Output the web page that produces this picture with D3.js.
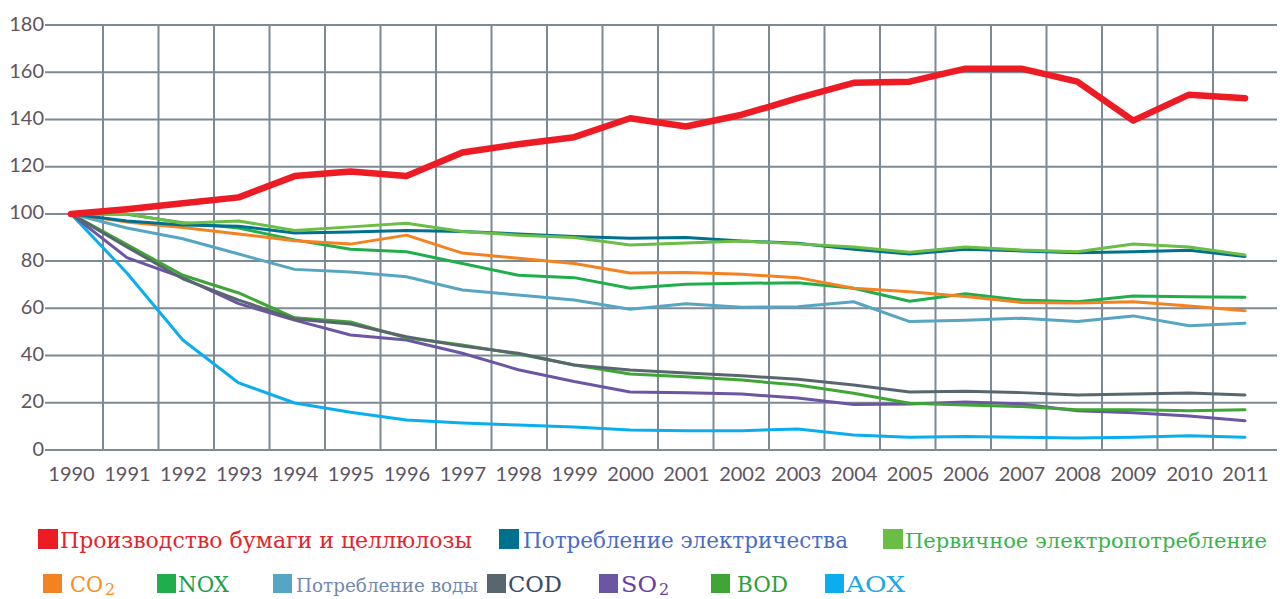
<!DOCTYPE html>
<html>
<head>
<meta charset="utf-8">
<script src="https://cdn.jsdelivr.net/npm/d3@7/dist/d3.min.js"></script>
<style>
  body { margin: 0; background: #fff; }
  svg { display: block; }
</style>
</head>
<body>
<div id="chart"></div>
<script>
// years on the x axis
var years = [1990, 1991, 1992, 1993, 1994, 1995, 1996, 1997, 1998, 1999, 2000,
             2001, 2002, 2003, 2004, 2005, 2006, 2007, 2008, 2009, 2010, 2011];

// index, 1990 = 100
var paper       = [100, 102, 104.5, 107, 116, 118, 116, 126, 129.5, 132.5, 140.5, 137, 142, 149, 155.5, 156, 161.5, 161.5, 156, 139.5, 150.5, 149];
var electricity = [100, 97, 95.3, 94.8, 91.9, 92.3, 93, 92.5, 91.5, 90.4, 89.7, 90, 88.5, 87.6, 85, 83, 85, 84.3, 83.5, 84, 84.6, 82];
var primary     = [100, 100, 96, 97, 93, 94.5, 96, 92.5, 91, 90, 86.8, 87.7, 88.5, 87.3, 86, 83.8, 86, 84.7, 84, 87.2, 86, 82.6];
var co2         = [100, 96.6, 94.2, 91.5, 88.6, 87.2, 91, 83.4, 81.2, 79, 75, 75.2, 74.4, 73, 68.5, 67, 65, 62.5, 62.3, 62.8, 61, 59];
var nox         = [100, 99.8, 96.3, 94, 89, 85, 84, 79, 74, 73, 68.5, 70.2, 70.6, 70.8, 68.5, 63, 66.2, 63.5, 62.8, 65.2, 64.9, 64.7];
var water       = [100, 94, 89.5, 83, 76.5, 75.4, 73.4, 67.8, 65.6, 63.5, 59.6, 61.9, 60.5, 60.7, 62.8, 54.4, 55, 55.8, 54.4, 56.8, 52.6, 53.7];
var cod         = [100, 86, 72.5, 63.5, 55.5, 53.4, 48, 44, 41, 36, 33.9, 32.6, 31.4, 30, 27.5, 24.6, 24.9, 24.3, 23.3, 23.7, 24.1, 23.3];
var so2         = [100, 81.5, 73, 62, 55, 48.7, 46.6, 41, 34, 29, 24.6, 24.2, 23.7, 22, 19.3, 19.5, 20.3, 19.5, 16.6, 15.8, 14.4, 12.4];
var bod         = [100, 87, 74, 66.5, 56, 54.2, 47.5, 44.5, 40.6, 36, 32.2, 31, 29.6, 27.5, 24, 19.8, 19.1, 18.4, 17, 17, 16.6, 17];
var aox         = [100, 75, 46.6, 28.4, 19.9, 16, 12.7, 11.4, 10.6, 9.7, 8.5, 8.2, 8.2, 8.9, 6.4, 5.4, 5.7, 5.4, 5.1, 5.4, 6, 5.4];

var yTicks = [0, 20, 40, 60, 80, 100, 120, 140, 160, 180];

// legend labels (sub = subscript part)
var legendNames = ["Производство бумаги и целлюлозы", "Потребление электричества", "Первичное электропотребление",
                   "CO", "NOX", "Потребление воды", "COD", "SO", "BOD", "AOX"];
var legendSubs  = ["", "", "", "2", "", "", "", "2", "", ""];

var series = [
  { values: aox,         color: "#0aaeef", text: "#1ea6e6", w: 3 },
  { values: so2,         color: "#6c56a3", text: "#6a3f9c", w: 3 },
  { values: bod,         color: "#3fa535", text: "#2f9e3a", w: 3 },
  { values: cod,         color: "#58676f", text: "#3a4a66", w: 3 },
  { values: water,       color: "#56a5c2", text: "#7189b0", w: 3 },
  { values: nox,         color: "#1fae4b", text: "#1b9f4c", w: 3 },
  { values: co2,         color: "#f58220", text: "#f7901e", w: 3 },
  { values: electricity, color: "#00708f", text: "#4a6cc4", w: 3 },
  { values: primary,     color: "#6abd45", text: "#38b44a", w: 3 },
  { values: paper,       color: "#ed1c24", text: "#e3242b", w: 6.5 }
];
// legend order -> series index
var legendOrder = [9, 7, 8, 6, 5, 4, 3, 1, 2, 0];

// legend layout: square x, text x, row, text length, font size
var legendLayout = [
  [38, 60, 0, 412, 22], [499, 523, 0, 325, 22], [883, 905, 0, 362, 20],
  [43, 70, 1, 33, 22], [157, 178, 1, 51, 22], [273, 296, 1, 182, 18],
  [487, 508, 1, 54, 22], [599, 621, 1, 36, 22], [711, 737, 1, 51, 22], [825, 846, 1, 59, 22]
];
var rowBase = [548, 592];

var width = 1280, height = 599;

var svg = d3.select("#chart").append("svg")
    .attr("width", width)
    .attr("height", height);

var x = d3.scaleLinear().domain([1990, 2011]).range([71, 1245]);
var y = d3.scaleLinear().domain([0, 180]).range([450, 25]);
var gridX = d3.scaleLinear().domain([1990.5, 2010.5]).range([103, 1213]);

var gridColor = "#7d8a93";

// horizontal grid
svg.append("g")
  .selectAll("line")
  .data(yTicks)
  .enter().append("line")
    .attr("x1", 45).attr("x2", 1277)
    .attr("y1", function(d) { return y(d); })
    .attr("y2", function(d) { return y(d); })
    .style("stroke", gridColor)
    .style("stroke-width", 2);

// vertical grid
svg.append("g")
  .selectAll("line")
  .data(years.slice(0, -1))
  .enter().append("line")
    .attr("x1", function(d) { return gridX(d + 0.5); })
    .attr("x2", function(d) { return gridX(d + 0.5); })
    .attr("y1", y(180)).attr("y2", y(0))
    .style("stroke", gridColor)
    .style("stroke-width", 2);

// y labels
var yAxis = svg.append("g")
    .attr("transform", "translate(44,0)")
    .call(d3.axisLeft(y).tickValues(yTicks).tickSize(0).tickPadding(0));
yAxis.select(".domain").remove();
yAxis.selectAll("text")
    .attr("dy", 5)
    .style("font-family", "Lato, 'Open Sans', sans-serif")
    .style("font-size", "20px")
    .style("fill", "#5e5560");

// x labels
var xAxis = svg.append("g")
    .attr("transform", "translate(0,481)")
    .call(d3.axisBottom(x).tickValues(years).tickFormat(d3.format("d")).tickSize(0).tickPadding(0));
xAxis.select(".domain").remove();
xAxis.selectAll("text")
    .attr("dy", 0)
    .style("font-family", "Lato, 'Open Sans', sans-serif")
    .style("font-size", "20px")
    .style("fill", "#5e5560");

// lines
var line = d3.line()
    .x(function(d, i) { return x(years[i]); })
    .y(function(d) { return y(d); });

svg.append("g")
  .selectAll("path")
  .data(series)
  .enter().append("path")
    .attr("d", function(d) { return line(d.values); })
    .style("fill", "none")
    .style("stroke", function(d) { return d.color; })
    .style("stroke-width", function(d) { return d.w; })
    .style("stroke-linejoin", "round")
    .style("stroke-linecap", "round");

// legend
var legend = svg.append("g");
legendOrder.forEach(function(si, k) {
  var s = series[si];
  var lay = legendLayout[k];
  var base = rowBase[lay[2]];
  var sq = lay[2] === 0 ? 20 : 19;
  legend.append("rect")
      .attr("x", lay[0])
      .attr("y", base - sq + 1)
      .attr("width", sq)
      .attr("height", sq)
      .style("fill", s.color);
  var t = legend.append("text")
      .attr("x", lay[1])
      .attr("y", base)
      .style("font-family", "'DejaVu Serif', 'Liberation Serif', serif")
      .style("font-size", lay[4] + "px")
      .style("fill", s.text);
  if (legendSubs[k]) {
    t.append("tspan")
        .attr("textLength", lay[3])
        .attr("lengthAdjust", "spacingAndGlyphs")
        .text(legendNames[k]);
    t.append("tspan")
        .attr("dy", 3)
        .attr("dx", 2)
        .style("font-size", "16px")
        .text(legendSubs[k]);
  } else {
    t.attr("textLength", lay[3])
        .attr("lengthAdjust", "spacingAndGlyphs")
        .text(legendNames[k]);
  }
});
</script>
</body>
</html>
